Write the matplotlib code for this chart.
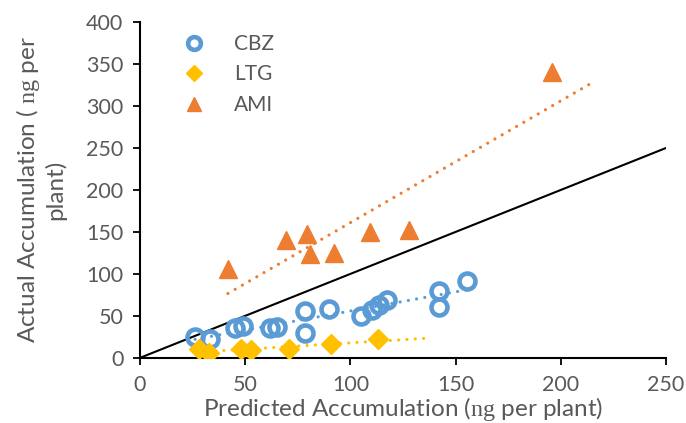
import numpy as np
import matplotlib
matplotlib.use("Agg")
import matplotlib.pyplot as plt

# predicted vs actual accumulation (ng per plant)
cbz_pred = [26.2, 33.3, 45.2, 49.2, 61.9, 65.1, 78.6, 78.6, 89.7, 104.8, 110.3, 113.5, 117.5, 142.0, 142.0, 155.6]
cbz_act = [24.8, 22.4, 35.5, 37.4, 35.5, 37.0, 55.4, 29.5, 58.3, 50.2, 57.4, 63.4, 69.4, 79.3, 61.0, 91.3]

ltg_pred = [28.0, 33.0, 48.0, 53.0, 71.0, 91.0, 113.0]
ltg_act = [11.0, 6.0, 10.0, 9.0, 11.0, 16.0, 22.0]

ami_pred = [41.8, 69.5, 79.4, 81.0, 92.0, 109.5, 127.8, 195.7]
ami_act = [105.3, 140.3, 147.0, 123.2, 125.2, 149.9, 151.9, 341.0]

# how far each trendline runs past the last point
forward = {"CBZ": 0, "LTG": 25, "AMI": 20}

blue = "#5B9BD5"
gold = "#FFC000"
orange = "#ED7D31"
grey = "#595959"

plt.rcParams["font.family"] = ["Lato", "DejaVu Sans"]
plt.rcParams["mathtext.fontset"] = "custom"
plt.rcParams["mathtext.rm"] = "Liberation Serif"

fig = plt.figure(figsize=(6.86, 4.23), dpi=100)
ax = fig.add_axes([0.204, 0.154, 0.767, 0.794])

# 1:1 reference line
ax.plot([0, 250], [0, 250], color="black", lw=1.5, zorder=2)

series = [
    ("CBZ", cbz_pred, cbz_act, blue),
    ("LTG", ltg_pred, ltg_act, gold),
    ("AMI", ami_pred, ami_act, orange),
]

for name, x, y, c in series:
    x = np.array(x)
    y = np.array(y)
    k, b = np.polyfit(x, y, 1)
    xs = np.array([x.min(), x.max() + forward[name]])
    ax.plot(xs, k * xs + b, color=c, lw=2.3, linestyle=(0, (0.01, 2.6)),
            dash_capstyle="round", zorder=3)

ax.plot(cbz_pred, cbz_act, "o", ms=11.5, mfc="none", mec=blue, mew=3.3,
        label="CBZ", zorder=4)
ax.plot(ltg_pred, ltg_act, "D", ms=10, color=gold, mec=gold, label="LTG", zorder=4)
ax.plot(ami_pred, ami_act, "^", ms=13, color=orange, mec=orange, label="AMI", zorder=4)

ax.set_xlim(0, 250)
ax.set_ylim(0, 400)
ax.set_xticks(np.arange(0, 251, 50))
ax.set_yticks(np.arange(0, 401, 50))

for s in ["top", "right"]:
    ax.spines[s].set_visible(False)
for s in ["left", "bottom"]:
    ax.spines[s].set_linewidth(1.5)
    ax.spines[s].set_color("black")
ax.tick_params(direction="out", length=5, width=1.3, color="black",
               labelcolor=grey, labelsize=15.5, pad=7)

ax.set_xlabel(r"Predicted Accumulation ($\mathrm{ng}$ per plant)",
              fontsize=17.5, color=grey, va="center")
ax.xaxis.set_label_coords(0.5, -0.152)
ax.set_ylabel("Actual Accumulation ( $\\mathrm{ng}$ per\nplant)",
              fontsize=17.5, color=grey, va="center", linespacing=1.1)
ax.yaxis.set_label_coords(-0.19, 0.5)

leg = ax.legend(loc="upper left", bbox_to_anchor=(0.027, 1.02), frameon=False,
                fontsize=15, labelcolor=grey, handletextpad=0.95,
                labelspacing=0.5, markerscale=0.8)

fig.savefig("out.png", dpi=100)
